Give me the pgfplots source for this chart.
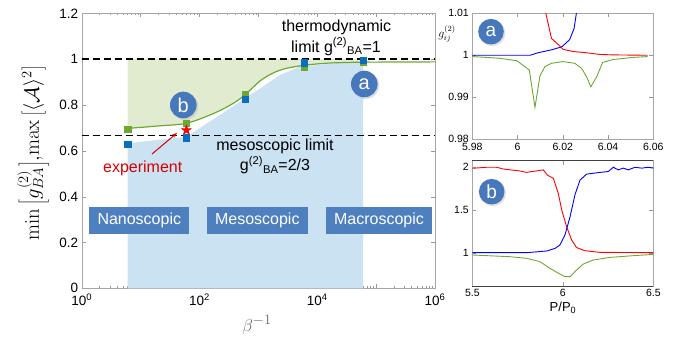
\documentclass[border=0pt]{standalone}
\usepackage{pgfplots}
\pgfplotsset{compat=1.18}
\usetikzlibrary{arrows.meta}
\usepackage[no-math]{fontspec}
\setmainfont{Liberation Sans}
\definecolor{gfill}{RGB}{224,235,208}
\definecolor{bfill}{RGB}{202,226,242}
\definecolor{gline}{RGB}{110,168,50}
\definecolor{bpt}{RGB}{10,110,190}
\definecolor{circ}{RGB}{72,120,188}
\definecolor{boxc}{RGB}{78,128,192}
\pgfdeclareplotmark{fstar}{%
  \pgfpathmoveto{\pgfpointpolar{90}{\pgfplotmarksize}}%
  \pgfpathlineto{\pgfpointpolar{126}{0.42\pgfplotmarksize}}%
  \pgfpathlineto{\pgfpointpolar{162}{\pgfplotmarksize}}%
  \pgfpathlineto{\pgfpointpolar{198}{0.42\pgfplotmarksize}}%
  \pgfpathlineto{\pgfpointpolar{234}{\pgfplotmarksize}}%
  \pgfpathlineto{\pgfpointpolar{270}{0.42\pgfplotmarksize}}%
  \pgfpathlineto{\pgfpointpolar{306}{\pgfplotmarksize}}%
  \pgfpathlineto{\pgfpointpolar{342}{0.42\pgfplotmarksize}}%
  \pgfpathlineto{\pgfpointpolar{18}{\pgfplotmarksize}}%
  \pgfpathlineto{\pgfpointpolar{54}{0.42\pgfplotmarksize}}%
  \pgfpathclose\pgfusepathqfillstroke}
\pgfplotsset{
  myax/.style={scale only axis, anchor=south west, tick align=inside,
    axis line style={gray!70}, major tick style={gray!80}, minor tick style={gray!80},
    major tick length=4pt, minor tick length=2pt,
    /pgf/number format/assume math mode=true,
    clip=true},
}
\begin{document}
\begin{tikzpicture}[x=1pt,y=1pt]
\path[use as bounding box] (0,0) rectangle (688,339);
% ---------------- main axis
\begin{axis}[myax, at={(81.7pt,50.7pt)}, width=353.3pt, height=275pt,
  xmode=log, xmin=1, xmax=1e6, ymin=0, ymax=1.2,
  xtick={1,10,100,1000,10000,100000,1000000},
  xticklabels={10\textsuperscript{0},,10\textsuperscript{2},,10\textsuperscript{4},,10\textsuperscript{6}},
  ytick={0,0.2,0.4,0.6,0.8,1,1.2},
  yticklabels={0,0.2,0.4,0.6,0.8,1,1.2},
  tick label style={font=\fontsize{13.5}{15}\selectfont},
  xticklabel style={yshift=-2pt},
]
% blue area
\addplot[draw=none, fill=bfill] coordinates {(6,0) (6,0.633) (60,0.661) (600,0.829) (2340,0.931) (5100,0.967) (60000,0.993) (60000,0)} -- cycle;
% green area
\addplot[draw=none, fill=gfill] coordinates {(6,1) (6,0.698) (10,0.702) (19,0.708) (40,0.714) (60,0.72) (100,0.738) (200,0.77) (375,0.807) (600,0.845) (1070,0.905) (1800,0.94) (3000,0.96) (6000,0.973) (11000,0.98) (20000,0.984) (60000,0.987) (60000,1)} -- cycle;
% limits
\addplot[black, line width=1.3pt, dash pattern=on 7pt off 4pt] coordinates {(1,1) (1e6,1)};
\addplot[black, line width=1.3pt, dash pattern=on 7pt off 4pt] coordinates {(1,0.6667) (1e6,0.6667)};
% green curve
\addplot[gline, line width=1.2pt, smooth] coordinates {(6,0.698) (10,0.702) (19,0.708) (40,0.714) (60,0.72) (100,0.738) (200,0.77) (375,0.807) (600,0.845) (1070,0.905) (1800,0.94) (3000,0.96) (6000,0.973) (11000,0.98) (20000,0.984) (60000,0.987) (100000,0.987) (1000000,0.988)};
% points
\addplot[only marks, mark=square*, mark size=3.2pt, mark options={draw=gline, fill=gline}] coordinates {(6,0.694) (60,0.72) (600,0.848) (6000,0.967) (60000,0.989)};
\addplot[only marks, mark=square*, mark size=3.2pt, mark options={draw=bpt, fill=bpt}] coordinates {(6,0.63) (60,0.657) (600,0.826) (6000,0.984) (60000,0.996)};
\addplot[only marks, mark=fstar, mark size=5pt, mark options={draw=red!85!black, fill=red}] coordinates {(60,0.69)};
\end{axis}
% main labels
\node[rotate=90] at (33,186) {\fontsize{22.5}{26}\selectfont $\min\left[g^{(2)}_{BA}\right]\!,\!\max\left[\langle\mathcal{A}\rangle^{2}\right]$};
\node[text=gray!80!black] at (257,14) {\fontsize{19}{21}\selectfont $\beta^{-1}$};
\node[align=center, font=\fontsize{16}{19}\selectfont] at (336.5,311.7) {thermodynamic};
\node[font=\fontsize{16}{19}\selectfont] at (336,292.3) {limit g\textsuperscript{(2)}\textsubscript{BA}=1};
\node[font=\fontsize{16}{19}\selectfont] at (275,192.3) {mesoscopic limit};
\node[font=\fontsize{16}{19}\selectfont] at (275,174) {g\textsuperscript{(2)}\textsubscript{BA}=2/3};
\node[font=\fontsize{16}{19}\selectfont, text=red!85!black] at (142.7,171) {experiment};
\draw[red!85!black, line width=1pt, -{Stealth[length=5pt]}] (152,185) -- (177,206);
% circles
\fill[gray!50, opacity=0.5] (184.8,232.5) circle (13.5);
\fill[circ] (183.3,234) circle (13.3);
\node[white, font=\fontsize{20}{22}\selectfont] at (183.3,234) {b};
\fill[gray!50, opacity=0.5] (365.8,253.5) circle (13.5);
\fill[circ] (364.3,255) circle (13.3);
\node[white, font=\fontsize{20}{22}\selectfont] at (364.3,255) {a};
% boxes
\node[fill=boxc, text=white, minimum width=100pt, minimum height=27pt, inner sep=0pt, font=\fontsize{16}{18}\selectfont] at (139.3,118.2) {Nanoscopic};
\node[fill=boxc, text=white, minimum width=100.7pt, minimum height=27pt, inner sep=0pt, font=\fontsize{16}{18}\selectfont] at (257.3,118.2) {Mesoscopic};
\node[fill=boxc, text=white, minimum width=106.7pt, minimum height=27pt, inner sep=0pt, font=\fontsize{16}{18}\selectfont] at (379,118.2) {Macroscopic};
% ---------------- top right
\begin{axis}[myax, at={(472.3pt,199.7pt)}, width=181pt, height=126pt,
  xmin=5.98, xmax=6.06, ymin=0.98, ymax=1.01,
  xtick={5.98,6,6.02,6.04,6.06}, xticklabels={5.98,6,6.02,6.04,6.06},
  ytick={0.98,0.99,1,1.01}, yticklabels={0.98,0.99,1,1.01},
  tick label style={font=\fontsize{10.5}{12}\selectfont},
]
\addplot[blue, line width=0.9pt] coordinates {(5.98,1.0) (6.0055,1.0) (6.009,1.0006) (6.015,1.0013) (6.0195,1.002) (6.023,1.0037) (6.025,1.0064) (6.026,1.01) (6.027,1.02)};
\addplot[red, line width=0.9pt] coordinates {(6.011,1.02) (6.0125,1.01) (6.015,1.004) (6.0173,1.0029) (6.0202,1.0014) (6.0246,1.0009) (6.0305,1.0006) (6.0364,1.0002) (6.042,1.0001) (6.0575,1.0)};
\addplot[gline, line width=0.9pt] coordinates {(5.98,0.9997) (5.992,0.9993) (5.9997,0.9987) (6.0052,0.9965) (6.0077,0.9876) (6.0099,0.9951) (6.0121,0.9973) (6.015,0.9981) (6.0202,0.9985) (6.0253,0.9981) (6.0283,0.9969) (6.0305,0.9949) (6.0324,0.9925) (6.035,0.9949) (6.0376,0.9983) (6.0423,0.999) (6.0512,0.9995) (6.0575,0.9997)};
\end{axis}
\node at (447,305) {\fontsize{11.5}{13}\selectfont $g^{(2)}_{ij}$};
\fill[gray!50, opacity=0.5] (492.3,305.8) circle (13);
\fill[circ] (491,307.3) circle (12.8);
\node[white, font=\fontsize{19}{21}\selectfont] at (491,307.3) {a};
% ---------------- bottom right
\begin{axis}[myax, at={(472.3pt,53pt)}, width=181pt, height=125.3pt,
  xmin=5.5, xmax=6.5, ymin=0.61, ymax=2.077,
  xtick={5.5,6,6.5}, xticklabels={5.5,6,6.5},
  ytick={1,1.5,2}, yticklabels={1,1.5,2},
  tick label style={font=\fontsize{10.5}{12}\selectfont},
]
\addplot[red, line width=0.9pt] coordinates {(5.5,1.988) (5.579,2.0) (5.634,2.0) (5.671,1.98) (5.708,1.97) (5.763,1.957) (5.8,1.94) (5.828,1.95) (5.865,1.96) (5.892,1.97) (5.914,1.91) (5.948,1.87) (5.975,1.695) (5.994,1.5) (6.021,1.305) (6.049,1.148) (6.076,1.06) (6.122,1.023) (6.205,1.004) (6.5,1.0)};
\addplot[blue, line width=0.9pt] coordinates {(5.5,1.0) (5.8,1.0) (5.911,1.02) (5.957,1.05) (5.984,1.09) (6.012,1.207) (6.04,1.42) (6.067,1.676) (6.095,1.85) (6.132,1.92) (6.205,1.94) (6.251,1.95) (6.279,2.0) (6.307,1.97) (6.334,1.99) (6.362,1.97) (6.399,2.0) (6.436,1.99) (6.472,2.0) (6.5,1.99)};
\addplot[gline, line width=0.9pt] coordinates {(5.5,0.973) (5.708,0.953) (5.8,0.934) (5.874,0.895) (5.929,0.816) (5.984,0.75) (6.012,0.719) (6.04,0.719) (6.076,0.797) (6.113,0.867) (6.168,0.914) (6.26,0.945) (6.39,0.965) (6.5,0.98)};
\end{axis}
\draw[gray!50!black, line width=0.9pt] (472.3,53) -- ++(181,0);
\draw[gray!50!black, line width=0.9pt] (472.3,178.3) -- ++(181,0);
\node at (563,31) {\fontsize{13}{15}\selectfont P/P\textsubscript{0}};
\fill[gray!50, opacity=0.5] (493,145.8) circle (13);
\fill[circ] (491.7,147.3) circle (12.8);
\node[white, font=\fontsize{19}{21}\selectfont] at (491.7,147.3) {b};
\end{tikzpicture}
\end{document}
